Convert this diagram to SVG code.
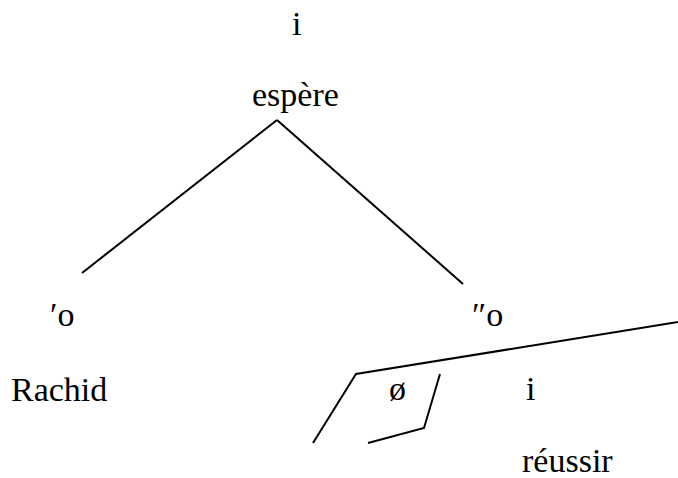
<svg xmlns="http://www.w3.org/2000/svg" width="678" height="478" viewBox="0 0 678 478">
<style>
.t{font-family:"Liberation Serif","Times New Roman",serif;font-size:34px;fill:#000}
.ln{stroke:#000;stroke-width:2;fill:none}
</style>
<rect width="678" height="478" fill="#fff"/>
<g id="connectors">
<line class="ln" x1="277" y1="120" x2="82" y2="273"/>
<line class="ln" x1="277" y1="120" x2="463" y2="284"/>
<polyline class="ln" points="678,322 356,374 313,443"/>
<polyline class="ln" points="440,374 424,428 368,443"/>
</g>
<g id="n-i-top"><text class="t" x="292" y="35">i</text></g>
<g id="n-espere"><text class="t" x="252" y="106">espère</text></g>
<g id="n-o1"><text class="t" x="50" y="326">′o</text></g>
<g id="n-o2"><text class="t" x="472" y="326">″o</text></g>
<g id="n-rachid"><text class="t" x="11" y="401">Rachid</text></g>
<g id="n-empty"><text class="t" x="389" y="400">ø</text></g>
<g id="n-i2"><text class="t" x="526" y="400">i</text></g>
<g id="n-reussir"><text class="t" x="522" y="472">réussir</text></g>
</svg>
